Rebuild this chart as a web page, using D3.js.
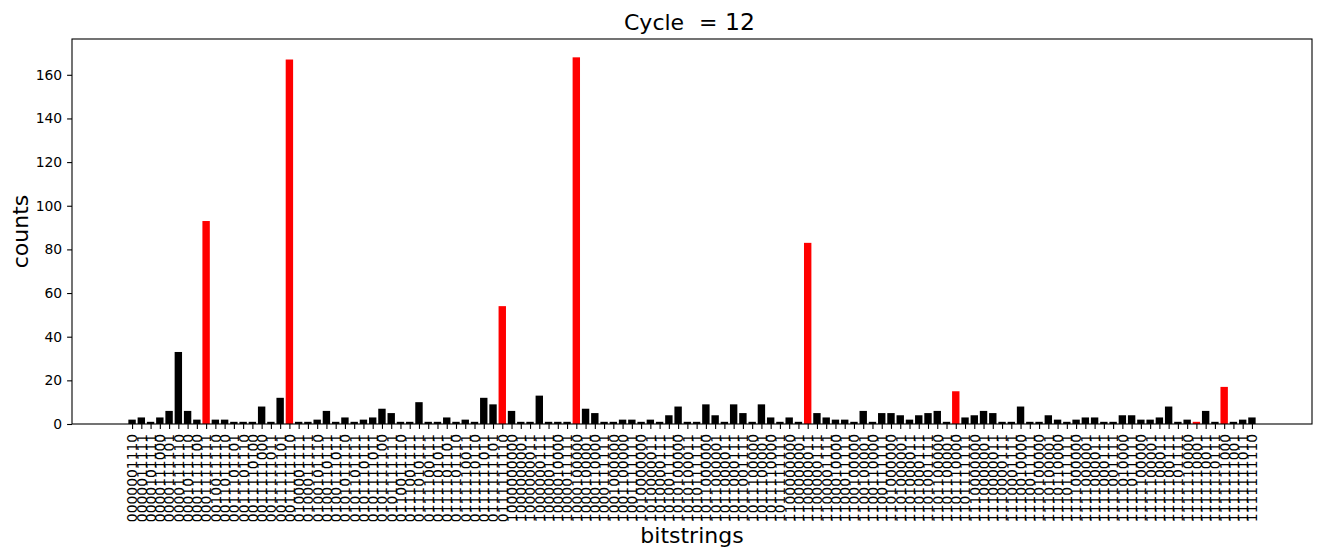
<!DOCTYPE html>
<html>
<head>
<meta charset="utf-8">
<script src="https://cdn.jsdelivr.net/npm/d3@7"></script>
<style>
  body { margin: 0; background: #fff; }
  text { font-family: "DejaVu Sans", sans-serif; fill: #000; }
</style>
</head>
<body>
<script>
// bar chart of measured bitstrings, red = target states

var width = 1321,
    height = 558;
var plotLeft = 72, plotRight = 1312, plotTop = 39, plotBottom = 424;

var bitstrings = [
  "0000001110","0000011111","0000101111","0000111000","0000111101","0000111110","0001011110","0001111100","0001111111","0010011110",
  "0011011110","0011101101","0011101110","0011110100","0011111000","0011111011","0011111101","0011111110","0100001111","0100011111",
  "0100101110","0100110111","0100111011","0101011110","0101101111","0101110111","0101111011","0101111100","0101111111","0110011110",
  "0111001111","0111010111","0111100111","0111101011","0111101101","0111101110","0111110011","0111110110","0111111011","0111111101",
  "0111111110","1000000000","1000000001","1000000011","1000000111","1000001111","1000010000","1000011111","1000100000","1000100001",
  "1000110000","1000111111","1001000000","1001100000","1001111111","1010000000","1010000011","1010000111","1010011111","1010100000",
  "1010100011","1010111111","1011000000","1011000001","1011000011","1011000111","1011001111","1011100000","1011100001","1011110000",
  "1011111111","1100000000","1100000001","1100000011","1100000111","1100001111","1100010000","1100011111","1100100000","1100100001",
  "1100110000","1100111111","1101000000","1101000001","1101000011","1101000111","1101001111","1101100000","1101100001","1101110000",
  "1101111111","1110000000","1110000001","1110000011","1110000111","1110001111","1110010000","1110011111","1110100000","1110100001",
  "1110110000","1110111111","1111000000","1111000001","1111000011","1111000111","1111001111","1111010000","1111011111","1111100000",
  "1111100001","1111100011","1111100111","1111101111","1111110000","1111110001","1111110011","1111110111","1111111000","1111111001",
  "1111111011","1111111110"
];

var counts = [
  2,3,1,3,6,33,6,2,93,2,
  2,1,1,1,8,1,12,167,1,1,
  2,6,1,3,1,2,3,7,5,1,
  1,10,1,1,3,1,2,1,12,9,
  54,6,1,1,13,1,1,1,168,7,
  5,1,1,2,2,1,2,1,4,8,
  1,1,9,4,1,9,5,1,9,3,
  1,3,1,83,5,3,2,2,1,6,
  1,5,5,4,2,4,5,6,1,15,
  3,4,6,5,1,1,8,1,1,4,
  2,1,2,3,3,1,1,4,4,2,
  2,3,8,1,2,1,6,1,17,1,
  2,3
];

// states drawn in red
var targets = ["0001111111","0011111110","0111111110","1000100000","1100000011","1101110000","1111110001","1111111000"];

var yTicks = [0, 20, 40, 60, 80, 100, 120, 140, 160];

var dataset = bitstrings.map(function(b, i) { return {label: b, count: counts[i], idx: i}; });
var n = dataset.length;

var svg = d3.select("body").append("svg")
    .attr("width", width)
    .attr("height", height);

// matplotlib style: bar width 0.8 and 5% margins
var pad = 0.4 + 0.05 * (n - 1 + 0.8);
var xScale = d3.scaleLinear()
    .domain([-pad, n - 1 + pad])
    .range([plotLeft, plotRight]);

var yMax = d3.max(counts) * 1.05;
var yScale = d3.scaleLinear()
    .domain([0, yMax])
    .range([plotBottom, plotTop]);

var barW = xScale(0.8) - xScale(0);

svg.selectAll("rect.bar").data(dataset).enter()
  .append("rect")
    .attr("class", "bar")
    .attr("x", function(d) { return xScale(d.idx) - barW / 2; })
    .attr("y", function(d) { return yScale(d.count); })
    .attr("width", barW)
    .attr("height", function(d) { return yScale(0) - yScale(d.count); })
    .attr("fill", function(d) { return targets.indexOf(d.label) >= 0 ? "#ff0000" : "#000000"; });

// y axis
var yAxis = d3.axisLeft(yScale).tickValues(yTicks).tickSize(4.9).tickPadding(4.9);
var gy = svg.append("g")
    .attr("transform", "translate(" + plotLeft + ",0)")
    .call(yAxis);
gy.select(".domain").remove();
gy.selectAll("line").attr("stroke", "#000").attr("stroke-width", 1.1);
gy.selectAll("text").style("font-size", "13.9px").attr("font-family", "DejaVu Sans");

// x axis with rotated labels
var xAxis = d3.axisBottom(xScale)
    .tickValues(d3.range(n))
    .tickFormat(function(i) { return bitstrings[i]; })
    .tickSize(4.9)
    .tickPadding(4.9);
var gx = svg.append("g")
    .attr("transform", "translate(0," + plotBottom + ")")
    .style("opacity", 0.999)  // grey antialiasing, no colour fringes
    .call(xAxis);
gx.select(".domain").remove();
gx.selectAll("line").attr("stroke", "#000").attr("stroke-width", 1.1);
gx.selectAll("text")
    .style("font-size", "13.9px")
    .attr("font-family", "DejaVu Sans")
    .attr("text-anchor", "end")
    .attr("y", 0)
    .attr("dy", "0.35em")
    .attr("transform", "translate(0,9.8) rotate(-90)");

// frame
svg.append("rect")
    .attr("x", plotLeft)
    .attr("y", plotTop)
    .attr("width", plotRight - plotLeft)
    .attr("height", plotBottom - plotTop)
    .attr("fill", "none")
    .attr("stroke", "#000")
    .attr("stroke-width", 1.1);

// title, the "= 12" part is math text in matplotlib
var title = svg.append("text")
    .attr("x", 624)
    .attr("y", 30)
    .style("font-size", "22px");
title.append("tspan").text("Cycle");
title.append("tspan").attr("x", 699).text("=");
title.append("tspan").attr("x", 725).style("font-size", "23.5px").text("12");

svg.append("text")
    .attr("x", (plotLeft + plotRight) / 2)
    .attr("y", 543)
    .attr("text-anchor", "middle")
    .style("font-size", "22px")
    .text("bitstrings");

svg.append("text")
    .attr("transform", "translate(28," + ((plotTop + plotBottom) / 2) + ") rotate(-90)")
    .attr("text-anchor", "middle")
    .style("font-size", "22px")
    .text("counts");
</script>
</body>
</html>
